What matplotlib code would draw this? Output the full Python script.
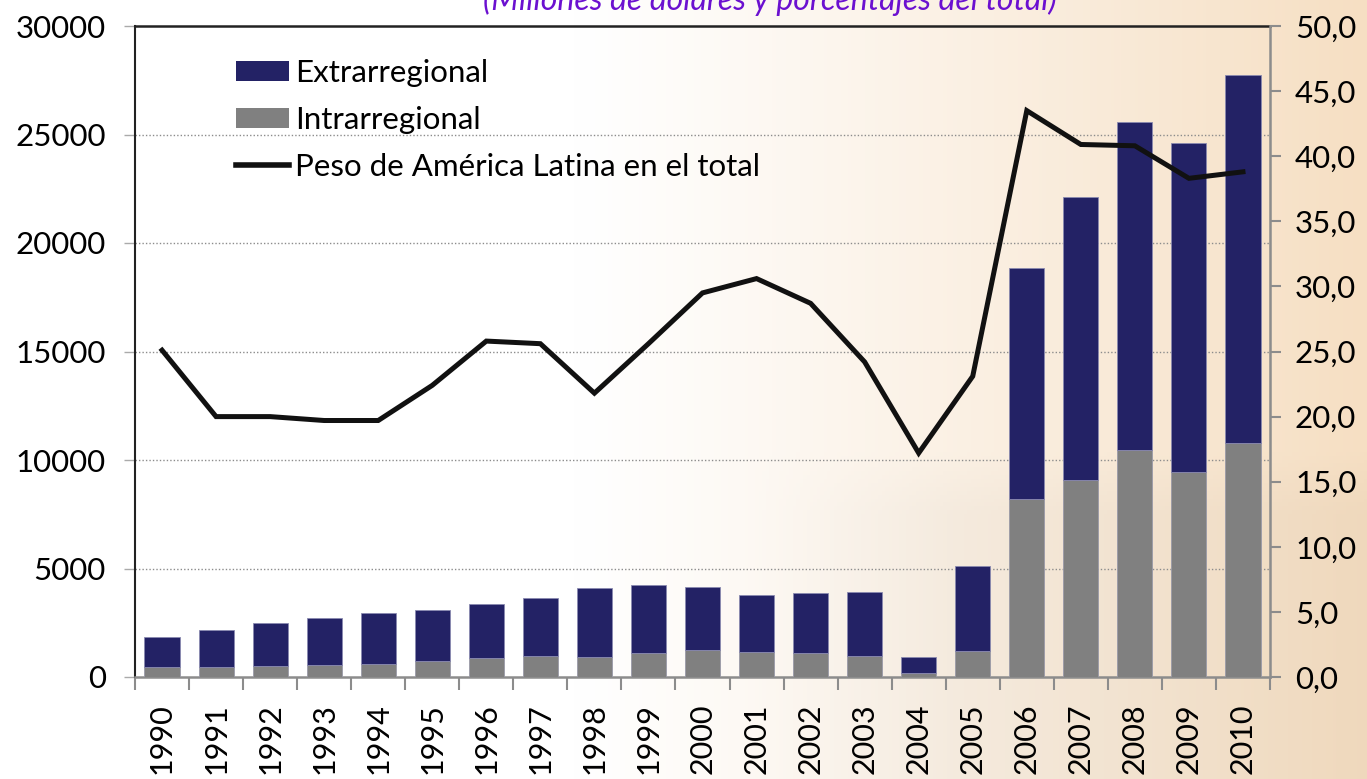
import numpy as np
import matplotlib
matplotlib.use("Agg")
import matplotlib.pyplot as plt
from matplotlib.colors import to_rgb
from matplotlib.lines import Line2D
from matplotlib.patches import Patch

plt.rcParams['font.family'] = ['Lato', 'DejaVu Sans']

years = ['1990', '1991', '1992', '1993', '1994', '1995', '1996', '1997', '1998', '1999',
         '2000', '2001', '2002', '2003', '2004', '2005', '2006', '2007', '2008', '2009', '2010']
total = [1850, 2170, 2490, 2720, 2950, 3090, 3360, 3640, 4100, 4240,
         4150, 3780, 3870, 3920, 920, 5110, 18850, 22100, 25580, 24600, 27740]
intra = [460, 450, 510, 550, 600, 740, 880, 970, 920, 1100,
         1240, 1150, 1100, 970, 180, 1200, 8200, 9080, 10460, 9450, 10780]
extra = [t - i for t, i in zip(total, intra)]
peso = [25.1, 20.0, 20.0, 19.7, 19.7, 22.4, 25.8, 25.6, 21.8, 25.6,
        29.5, 30.6, 28.7, 24.2, 17.2, 23.1, 43.5, 40.9, 40.8, 38.3, 38.8]
left_ticks = [0, 5000, 10000, 15000, 20000, 25000, 30000]
right_ticks = [0, 5, 10, 15, 20, 25, 30, 35, 40, 45, 50]

W, H = 1367, 779
fig = plt.figure(figsize=(W / 100, H / 100), dpi=100)

# background gradient
bg = fig.add_axes([0, 0, 1, 1], zorder=-10)
bg.set_axis_off()
nx, ny = 400, 200
xs = np.linspace(0, 1, nx)
ys = np.linspace(0, 1, ny)
X, Y = np.meshgrid(xs, ys)
white = np.array([1.0, 1.0, 1.0])
peach = np.array(to_rgb('#f6dfc3'))
t = np.clip((X - 0.42) / 0.58, 0, 1) ** 1.1
img = white[None, None, :] * (1 - t[..., None]) + peach[None, None, :] * t[..., None]
# faint darker shape in lower right (Y=0 at top)
shade = np.clip((Y - 0.58) / 0.08, 0, 1) * np.clip((X - 0.55) / 0.15, 0, 1) * 0.025
img = img - shade[..., None]
bg.imshow(img, extent=[0, 1, 0, 1], aspect='auto', origin='upper')
bg.set_xlim(0, 1)
bg.set_ylim(0, 1)

ax = fig.add_axes([135 / W, 1 - 677 / H, (1270 - 135) / W, (677 - 26) / H])
ax.set_facecolor('none')
x = np.arange(len(years))
navy = '#232265'
gray = '#808080'
ax.bar(x, intra, width=0.65, color=gray, edgecolor='#9a9aa8', linewidth=0.6, zorder=3)
ax.bar(x, extra, bottom=intra, width=0.65, color=navy, edgecolor='#8a8ab0', linewidth=0.6, zorder=3)
ax.set_xlim(-0.5, len(years) - 0.5)
ax.set_ylim(0, 30000)
ax.set_yticks(left_ticks)
ax.set_yticklabels([str(v) for v in left_ticks], fontsize=22.5)
for v in left_ticks[1:-1]:
    ax.axhline(v, color='#8c8c8c', linestyle=(0, (1, 1.5)), linewidth=1.0, zorder=1)
ax.tick_params(axis='y', length=8, color='#aaaaaa', pad=13, width=1)
ax.set_xticks(x)
ax.set_xticklabels(years, rotation=90, fontsize=22, va='top', ha='center')
ax.set_xticks(np.arange(len(years) + 1) - 0.5, minor=True)
ax.tick_params(axis='x', which='major', length=0, pad=19)
ax.tick_params(axis='x', which='minor', length=9, color='#8c8c8c', width=1.5)

ax.spines['left'].set_linestyle((0, (1, 1)))
ax.spines['left'].set_color('#222222')
ax.spines['left'].set_linewidth(1.5)
ax.spines['top'].set_color('#222222')
ax.spines['top'].set_linewidth(1.8)
ax.spines['bottom'].set_color('#8c8c8c')
ax.spines['bottom'].set_linewidth(1.8)
ax.spines['right'].set_visible(False)

ax2 = ax.twinx()
ax2.set_ylim(0, 50)
ax2.set_yticks(right_ticks)
ax2.set_yticklabels([f'{v:.1f}'.replace('.', ',') for v in right_ticks], fontsize=22.5)
ax2.plot(x, peso, color='#111111', linewidth=3.6, zorder=5, solid_joinstyle='miter')
ax2.tick_params(axis='y', length=8, color='#8c8c8c', width=1.5, pad=10)
for s in ['left', 'top', 'bottom']:
    ax2.spines[s].set_visible(False)
ax2.spines['right'].set_color('#8c8c8c')
ax2.spines['right'].set_linewidth(1.8)

handles = [Patch(facecolor=navy, edgecolor='none'),
           Patch(facecolor=gray, edgecolor='none'),
           Line2D([0], [0], color='#111111', linewidth=4)]
labels = ['Extrarregional', 'Intrarregional', 'Peso de América Latina en el total']
fig.legend(handles, labels, loc='upper left', bbox_to_anchor=(236 / W, 1 - 59 / H),
           frameon=False, fontsize=22.5, handlelength=1.7, handleheight=0.6,
           handletextpad=0.18, labelspacing=0.6, borderpad=0, borderaxespad=0)

fig.text(770 / W, 1 - 10 / H, '(Millones de dólares y porcentajes del total)',
         ha='center', va='baseline', fontsize=23, style='italic', color='#6b10d0')

fig.savefig('out.png', dpi=100)
